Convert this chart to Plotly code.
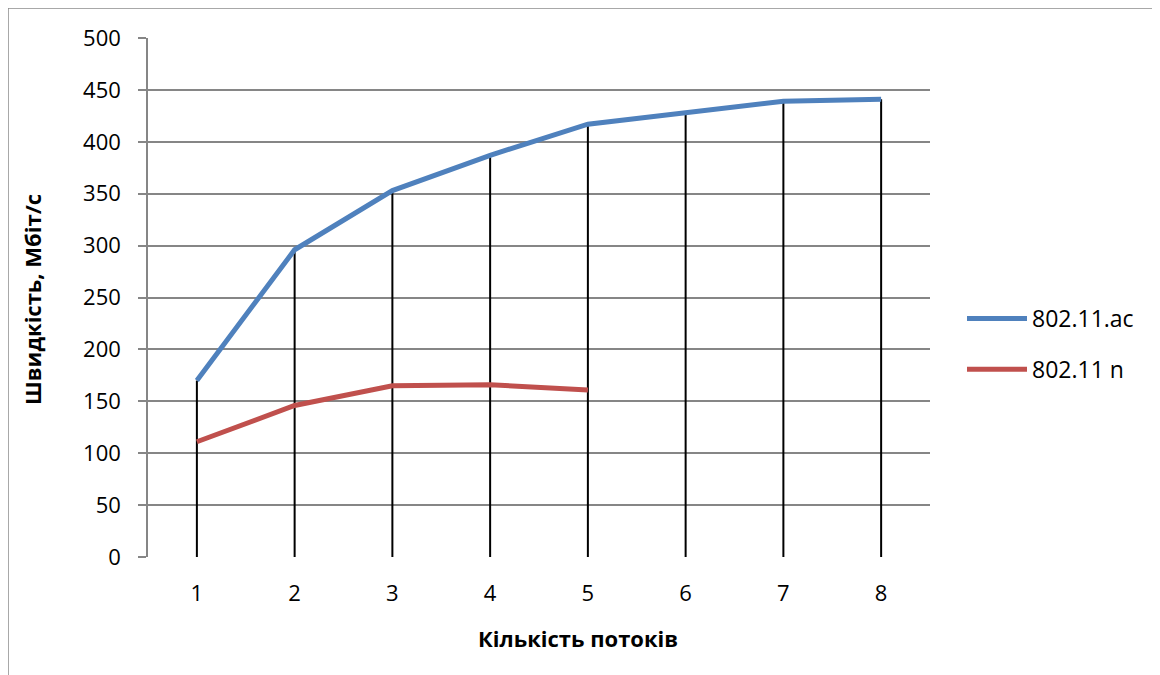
import plotly.graph_objects as go

categories = [1, 2, 3, 4, 5, 6, 7, 8]
ac_values = [170, 296, 353, 387, 417, 428, 439, 441]
n_categories = [1, 2, 3, 4, 5]
n_values = [111, 146, 165, 166, 161]
series_names = ["802.11.ac", "802.11 n"]
y_ticks = [0, 50, 100, 150, 200, 250, 300, 350, 400, 450, 500]
x_title = "Кількість потоків"
y_title = "Швидкість, Мбіт/с"

FONT = "Open Sans, Noto Sans, sans-serif"

# drop lines from 0 up to the highest series value at each category
n_map = dict(zip(n_categories, n_values))
drop_x, drop_y = [], []
for c, v in zip(categories, ac_values):
    top = max(v, n_map.get(c, v))
    drop_x += [c, c, None]
    drop_y += [0, top, None]

fig = go.Figure()
fig.add_trace(go.Scatter(x=drop_x, y=drop_y, mode="lines",
                         line=dict(color="black", width=2),
                         showlegend=False, hoverinfo="skip"))
fig.add_trace(go.Scatter(x=categories, y=ac_values, mode="lines",
                         name=series_names[0], legendgroup="a",
                         line=dict(color="#4F81BD", width=5)))
fig.add_trace(go.Scatter(x=n_categories, y=n_values, mode="lines",
                         name=series_names[1], legendgroup="b",
                         line=dict(color="#C0504D", width=5)))

# page body has an 8px margin; work in reference pixel coordinates
OFF = 8
W, H = 1160 - OFF, 675 - OFF
L, T = 148 - OFF, 38 - OFF
pw, ph = 782, 519
R, B = W - L - pw, H - T - ph

def px_x(px):
    return (px - OFF - L) / pw

def px_y(py):
    return (T + ph - (py - OFF)) / ph

fig.update_layout(
    width=W, height=H,
    margin=dict(l=L, r=R, t=T, b=B, pad=0),
    paper_bgcolor="white", plot_bgcolor="white",
    font=dict(family=FONT, size=22, color="black"),
    showlegend=True,
    legend=dict(x=px_x(962), y=px_y(344),
                xanchor="left", yanchor="middle",
                font=dict(family=FONT, size=23, color="black"),
                bgcolor="rgba(0,0,0,0)", itemwidth=60,
                traceorder="grouped", tracegroupgap=18),
    xaxis=dict(range=[0.5, 8.5], tickvals=categories,
               ticktext=[str(c) for c in categories],
               showgrid=False, zeroline=False, showline=False,
               ticks="", ticklabelstandoff=21,
               tickfont=dict(family=FONT, size=22)),
    yaxis=dict(range=[0, 500], tickvals=y_ticks,
               showgrid=True, gridcolor="#868686", gridwidth=1.5,
               zeroline=False, showline=True, linecolor="#868686",
               linewidth=1.5, ticks="outside", ticklen=8,
               tickcolor="#868686", tickwidth=1.5,
               ticklabelstandoff=13,
               tickfont=dict(family=FONT, size=22)),
    annotations=[
        dict(text=f"<b>{x_title}</b>", x=px_x(578), y=px_y(638),
             xref="paper", yref="paper", showarrow=False,
             xanchor="center", yanchor="middle",
             font=dict(family=FONT, size=22)),
        dict(text=f"<b>{y_title}</b>", x=px_x(32), y=px_y(300),
             xref="paper", yref="paper", showarrow=False, textangle=-90,
             xanchor="center", yanchor="middle",
             font=dict(family=FONT, size=22)),
    ],
    shapes=[
        dict(type="rect", xref="paper", yref="paper",
             x0=px_x(8), x1=px_x(1200),
             y0=px_y(720), y1=px_y(8),
             line=dict(color="#8c8c8c", width=1.5), fillcolor="rgba(0,0,0,0)",
             layer="below"),
    ],
)

fig.write_html("out.html")
